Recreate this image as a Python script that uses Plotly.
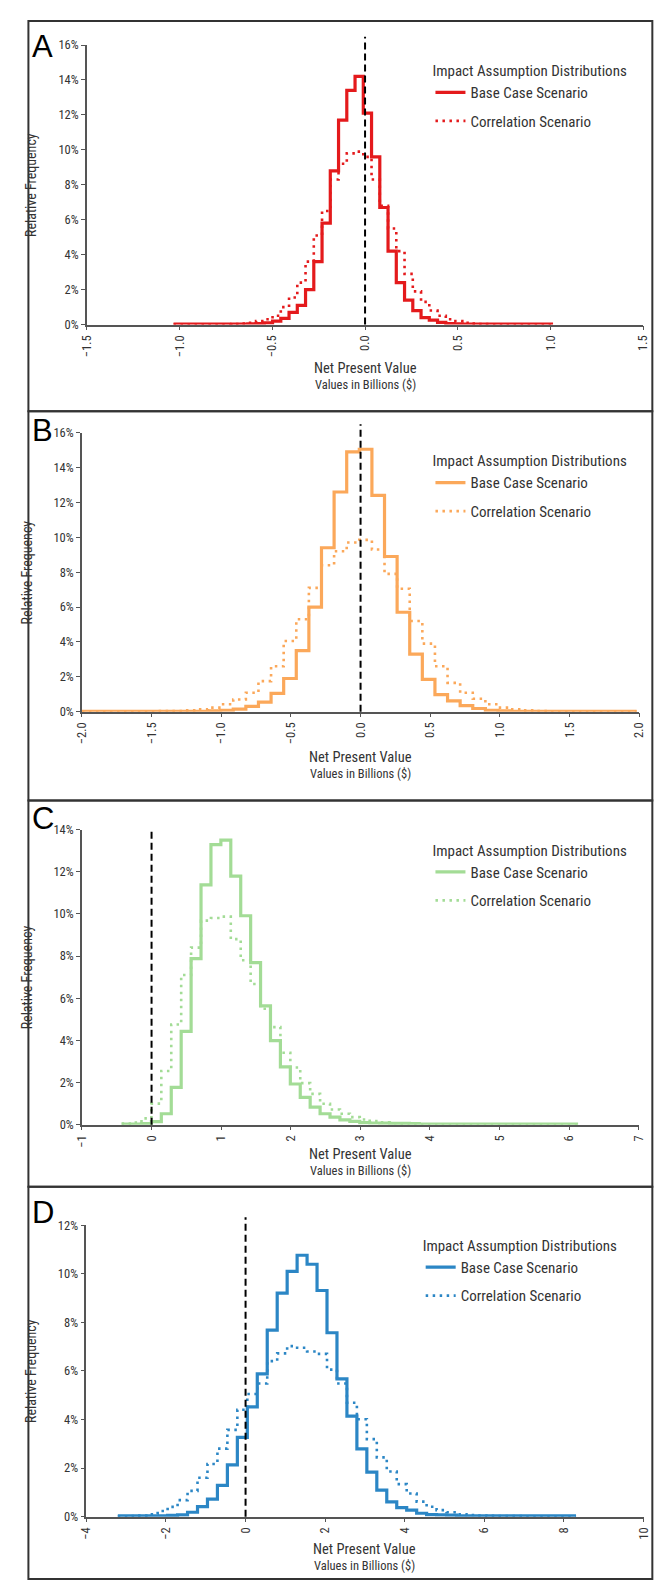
import numpy as np
import plotly.graph_objects as go

W, H = 666, 1583

# Histogram data (relative frequency, %), bins given by first edge and width
# Panel A
a_start, a_width = -1.033, 0.0445
a_base = [0.02, 0.02, 0.02, 0.02, 0.02, 0.02, 0.02, 0.03, 0.03, 0.04,
          0.06, 0.1, 0.2, 0.35, 0.7, 1.1, 2.0, 3.6, 5.8, 8.8,
          11.7, 13.4, 14.2, 12.1, 9.6, 6.7, 4.2, 2.4, 1.4, 0.8,
          0.4, 0.25, 0.12, 0.06, 0.04, 0.03, 0.02, 0.02, 0.02, 0.02,
          0.02, 0.02, 0.02, 0.02, 0.02, 0.02]
a_corr = [0.0, 0.0, 0.0, 0.0, 0.01, 0.01, 0.02, 0.03, 0.06, 0.1,
          0.2, 0.3, 0.5, 1.0, 1.55, 2.4, 3.6, 5.1, 6.5, 8.3,
          9.2, 9.8, 9.9, 9.6, 8.3, 6.8, 5.5, 4.2, 2.9, 1.9,
          1.3, 0.8, 0.5, 0.3, 0.2, 0.1, 0.05, 0.03, 0.02, 0.01,
          0.0, 0.0, 0.0, 0.0, 0.0, 0.0]

# Panel B
b_start, b_width = -2.0, 0.0905
b_base = [0.02, 0.02, 0.02, 0.02, 0.02, 0.02, 0.02, 0.02, 0.02, 0.02,
          0.05, 0.08, 0.15, 0.3, 0.55, 1.05, 1.9, 3.5, 6.0, 9.4,
          12.6, 14.9, 15.05, 12.4, 8.9, 5.7, 3.3, 1.85, 0.98, 0.62,
          0.34, 0.18, 0.08, 0.05, 0.02, 0.02, 0.02, 0.02, 0.02, 0.02,
          0.02, 0.02, 0.02, 0.02]
b_corr = [0.01, 0.01, 0.01, 0.01, 0.02, 0.02, 0.03, 0.04, 0.07, 0.13,
          0.23, 0.42, 0.7, 1.08, 1.75, 2.6, 4.05, 5.3, 7.1, 8.4,
          9.2, 9.7, 9.85, 9.3, 7.9, 7.05, 5.2, 3.9, 2.6, 1.65,
          1.08, 0.74, 0.42, 0.23, 0.13, 0.07, 0.04, 0.02, 0.02, 0.01,
          0.01, 0.01, 0.01, 0.01]

# Panel C
c_start, c_width = -0.43, 0.1426
c_base = [0.03, 0.03, 0.05, 0.15, 0.52, 1.77, 4.43, 7.88, 11.37, 13.28,
          13.5, 11.79, 9.91, 7.69, 5.64, 3.99, 2.74, 1.93, 1.3, 0.83,
          0.52, 0.36, 0.23, 0.16, 0.1, 0.08, 0.07, 0.06, 0.06, 0.05,
          0.03, 0.03, 0.03, 0.03, 0.03, 0.03, 0.03, 0.03, 0.03, 0.03,
          0.03, 0.03, 0.03, 0.03, 0.03, 0.03]
c_corr = [0.05, 0.1, 0.3, 1.0, 2.55, 4.75, 7.1, 8.4, 9.68, 9.8,
          9.87, 8.8, 7.8, 6.67, 5.5, 4.63, 3.41, 2.71, 1.97, 1.46,
          0.99, 0.72, 0.52, 0.36, 0.25, 0.17, 0.11, 0.07, 0.05, 0.03,
          0.02, 0.02, 0.01, 0.01, 0.01, 0.01, 0.01, 0.01, 0.01, 0.01,
          0.01, 0.01, 0.01, 0.01, 0.01, 0.01]

# Panel D
d_start, d_width = -3.21, 0.2503
d_base = [0.03, 0.03, 0.03, 0.03, 0.03, 0.05, 0.07, 0.18, 0.41, 0.72,
          1.29, 2.13, 3.26, 4.52, 5.88, 7.68, 9.2, 10.1, 10.76, 10.39,
          9.31, 7.57, 5.67, 4.14, 2.79, 1.83, 1.09, 0.61, 0.37, 0.27,
          0.14, 0.08, 0.07, 0.06, 0.03, 0.03, 0.03, 0.03, 0.03, 0.03,
          0.03, 0.03, 0.03, 0.03, 0.03, 0.03]
d_corr = [0.01, 0.02, 0.04, 0.1, 0.23, 0.4, 0.68, 1.06, 1.6, 2.17,
          2.8, 3.57, 4.4, 5.05, 5.48, 6.4, 6.72, 7.02, 6.95, 6.8,
          6.7, 6.05, 5.48, 4.69, 4.01, 3.19, 2.44, 1.86, 1.34, 0.95,
          0.62, 0.41, 0.27, 0.18, 0.1, 0.07, 0.05, 0.03, 0.02, 0.02,
          0.02, 0.01, 0.01, 0.01, 0.01, 0.01]

labels = ["A", "B", "C", "D"]
colors = ["#E41A1C", "#FBA85A", "#A3DC96", "#2B86C5"]

NARROW = "Liberation Sans Narrow, Arial Narrow, Roboto Condensed, sans-serif"
TXT = "#333333"


def fx(px):
    return px / W


def fy(py):
    return 1 - py / H


# layout of each panel (pixel positions on the page)
panels = [
    dict(start=a_start, width=a_width, base=a_base, corr=a_corr,
         xpx=(72.6, 641.6), ypx=(29.3, 311.5), xr=[-1.5, 1.5], dtick=0.5,
         fmt=".1f", ymax=16, box=(5, 399), letter_y=31, leg_y=41, leg_x=424,
         zero_top=1.03, ttl=(44.5, 60.5), ylab_x=30.5),
    dict(start=b_start, width=b_width, base=b_base, corr=b_corr,
         xpx=(67.5, 637.5), ypx=(420.7, 702.3), xr=[-2, 2], dtick=0.5,
         fmt=".1f", ymax=16, box=(399, 792), letter_y=418, leg_y=435, leg_x=424,
         zero_top=1.03, ttl=(46, 62), ylab_x=26.5),
    dict(start=c_start, width=c_width, base=c_base, corr=c_corr,
         xpx=(67.5, 637.0), ypx=(821.3, 1119.3), xr=[-1, 7], dtick=1,
         fmt="d", ymax=14, box=(792, 1182), letter_y=810, leg_y=828, leg_x=424,
         zero_top=1.005, ttl=(30, 46.5), ylab_x=26.5),
    dict(start=d_start, width=d_width, base=d_base, corr=d_corr,
         xpx=(72.0, 642.0), ypx=(1220.7, 1515.0), xr=[-4, 10], dtick=2,
         fmt="d", ymax=12, box=(1182, 1578), letter_y=1208, leg_y=1227, leg_x=414,
         zero_top=1.027, ttl=(33.5, 49.5), ylab_x=30.5),
]

fig = go.Figure()
shapes = []
annotations = []

for i, p in enumerate(panels):
    n = i + 1
    sfx = "" if n == 1 else str(n)
    xa, ya = "x" + sfx, "y" + sfx
    leg = "legend" + sfx
    edges = p["start"] + p["width"] * np.arange(len(p["base"]) + 1)

    # correlation scenario (dotted), drawn first so the base case sits on top
    fig.add_trace(go.Scatter(
        x=edges, y=list(p["corr"]) + [p["corr"][-1]],
        mode="lines", line=dict(shape="hv", color=colors[i], width=2.6, dash="2.5px,4.5px"),
        name="Correlation Scenario", xaxis=xa, yaxis=ya, legend=leg,
        legendrank=2, legendgroup=f"c{n}", hoverinfo="skip"))
    fig.add_trace(go.Scatter(
        x=edges, y=list(p["base"]) + [p["base"][-1]],
        mode="lines", line=dict(shape="hv", color=colors[i], width=3.2),
        name="Base Case Scenario", xaxis=xa, yaxis=ya, legend=leg,
        legendrank=1, legendgroup=f"b{n}", hoverinfo="skip"))

    axis_common = dict(showline=True, linecolor="#555555", linewidth=1.5,
                       ticks="outside", ticklen=4, tickcolor="#555555", tickwidth=1.2,
                       showgrid=False, zeroline=False,
                       tickfont=dict(family=NARROW, size=12.5, color=TXT))
    fig.update_layout({
        "xaxis" + sfx: dict(axis_common, domain=[fx(p["xpx"][0]), fx(p["xpx"][1])],
                            range=p["xr"], dtick=p["dtick"], tick0=p["xr"][0],
                            tickformat=p["fmt"], tickangle=-90, anchor=ya),
        "yaxis" + sfx: dict(axis_common, domain=[fy(p["ypx"][1]), fy(p["ypx"][0])],
                            range=[0, p["ymax"]], dtick=2, ticksuffix="%", anchor=xa),
        leg: dict(x=fx(p["leg_x"]), y=fy(p["leg_y"]), xanchor="left", yanchor="top",
                  bgcolor="rgba(0,0,0,0)", tracegroupgap=6,
                  font=dict(family=NARROW, size=15, color=TXT),
                  title=dict(text="Impact Assumption Distributions",
                             font=dict(family=NARROW, size=15, color=TXT))),
    })

    # zero reference line
    shapes.append(dict(type="line", xref=xa, yref=ya + " domain", x0=0, x1=0,
                       y0=0, y1=p["zero_top"], layer="above",
                       line=dict(color="black", width=2, dash="7px,4px")))
    # panel frame
    shapes.append(dict(type="rect", xref="paper", yref="paper",
                       x0=fx(12.7), x1=fx(651), y0=fy(p["box"][1]), y1=fy(p["box"][0]),
                       line=dict(color="#333333", width=2)))

    xmid = (p["xpx"][0] + p["xpx"][1]) / 2
    y0 = p["ypx"][1]
    annotations += [
        dict(text=labels[i], x=fx(14), y=fy(p["letter_y"]), xref="paper", yref="paper",
             xanchor="left", yanchor="middle", showarrow=False,
             font=dict(family="Liberation Sans, Arial, sans-serif", size=31, color="black")),
        dict(text="Relative Frequency", x=fx(p["ylab_x"] - 15), y=fy((p["ypx"][0] + p["ypx"][1]) / 2),
             xref="paper", yref="paper", xanchor="center", yanchor="middle",
             textangle=-90, showarrow=False,
             font=dict(family=NARROW, size=14, color=TXT)),
        dict(text="Net Present Value", x=fx(xmid), y=fy(y0 + p["ttl"][0]), xref="paper", yref="paper",
             xanchor="center", yanchor="middle",
             showarrow=False, font=dict(family=NARROW, size=14.5, color=TXT)),
        dict(text="Values in Billions ($)", x=fx(xmid), y=fy(y0 + p["ttl"][1]), xref="paper", yref="paper",
             xanchor="center", yanchor="middle",
             showarrow=False, font=dict(family=NARROW, size=12.5, color=TXT)),
    ]

fig.update_layout(
    width=W, height=H,
    margin=dict(l=0, r=0, t=0, b=0),
    paper_bgcolor="white", plot_bgcolor="white",
    shapes=shapes, annotations=annotations,
    showlegend=True,
)

fig.write_html("out.html")
